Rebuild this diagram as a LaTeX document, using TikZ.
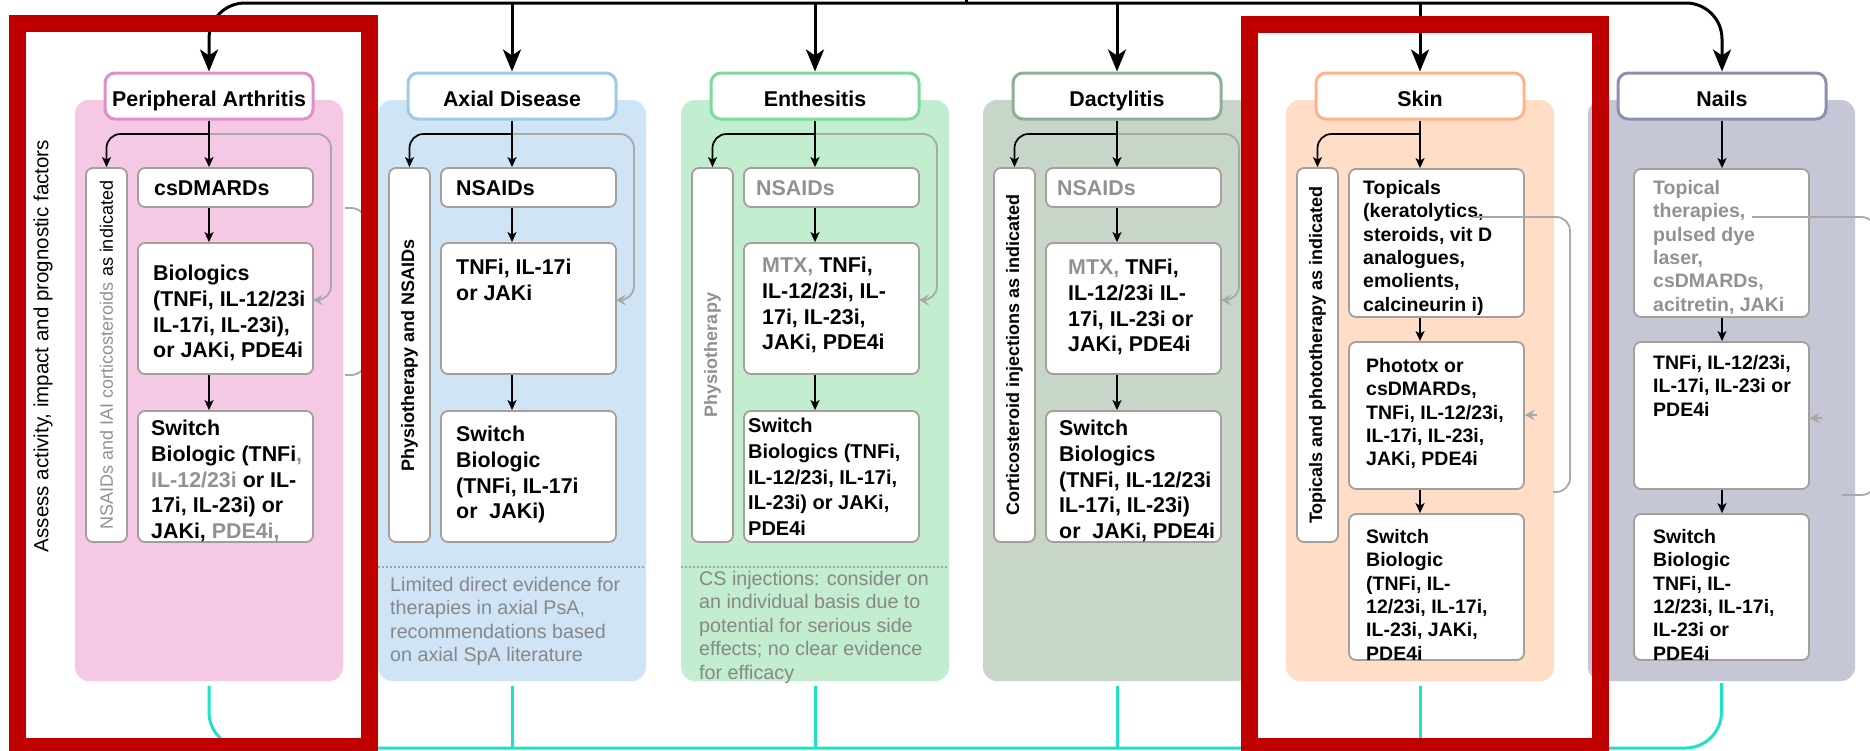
\documentclass[tikz,border=0pt]{standalone}
\usepackage{fontspec}
\setmainfont{Liberation Sans}
\usetikzlibrary{arrows.meta,fit}
\definecolor{redc}{RGB}{192,0,0}
\definecolor{tealc}{RGB}{30,226,200}
\definecolor{boxgray}{RGB}{166,158,153}
\definecolor{loopgray}{RGB}{168,168,168}
\definecolor{tgray}{RGB}{145,145,145}
\definecolor{notegray}{RGB}{135,135,135}
\definecolor{dotc}{RGB}{165,165,165}
\definecolor{hPAc}{RGB}{227,142,201}
\definecolor{hADc}{RGB}{158,202,234}
\definecolor{hENc}{RGB}{125,220,156}
\definecolor{hDAc}{RGB}{143,175,148}
\definecolor{hSKc}{RGB}{255,180,136}
\definecolor{hNAc}{RGB}{141,145,176}
\definecolor{pPAc}{RGB}{245,201,230}
\definecolor{pADc}{RGB}{207,229,246}
\definecolor{pENc}{RGB}{194,237,207}
\definecolor{pDAc}{RGB}{200,214,202}
\definecolor{pSKc}{RGB}{255,221,198}
\definecolor{pNAc}{RGB}{197,199,214}
\newcommand\myHdr{\fontsize{21.4}{25.5}\selectfont\bfseries}
\newcommand\myBig{\fontsize{21.4}{25.75}\selectfont\bfseries}
\newcommand\myMid{\fontsize{20}{25.75}\selectfont\bfseries}
\newcommand\mySmall{\fontsize{19.5}{23.4}\selectfont\bfseries}
\newcommand\mySide{\fontsize{18}{21}\selectfont\bfseries}
\newcommand\mySideR{\fontsize{18}{21}\selectfont}
\newcommand\myNote{\fontsize{19.7}{23.5}\selectfont}
\newcommand\myAssess{\fontsize{20.5}{24}\selectfont}
\newcommand\grtxt[1]{\textcolor{tgray}{#1}}
\tikzset{
  panel/.style={fill=#1, draw=none, rounded corners=14pt, inner sep=0pt},
  hdr/.style={draw=#1, line width=3pt, fill=white, rounded corners=10pt, inner sep=0pt,
    minimum width=208pt, minimum height=46pt, font=\myHdr, text height=21.3pt, text depth=0pt},
  bx/.style={draw=boxgray, line width=1.8pt, fill=white, rounded corners=7pt, inner sep=0pt},
  txt/.style={inner sep=0pt, align=left, font=\myBig, anchor=north west},
  stxt/.style={txt, font=\mySmall},
  sidetxt/.style={inner sep=0pt, rotate=90, font=\mySide},
  note/.style={inner sep=0pt, align=left, font=\myNote, text=notegray, anchor=north west},
  blk/.style={draw=black, line width=1.7pt, -{Stealth[length=10pt,width=9pt,inset=2.5pt]}},
  toparr/.style={draw=black, line width=3pt, -{Stealth[length=22pt,width=18pt,inset=6pt]}},
  gl/.style={draw=loopgray, line width=1.8pt},
  garr/.style={gl, -{Stealth[length=10pt,width=11pt,inset=4pt]}},
  tealline/.style={draw=tealc, line width=3pt},
  redframe/.style={draw=redc, line width=17pt},
  dotsep/.style={draw=dotc, line width=1.3pt, dash pattern=on 1.5pt off 2.5pt}
}
\begin{document}
\begin{tikzpicture}[x=1pt,y=-1pt]
\useasboundingbox (0,0) rectangle (1870,750);
\fill[white] (0,0) rectangle (1870,750);

% panels
\node[panel=pPAc, fit={(75,100) (343,681)}] (PPA) {};
\node[panel=pADc, fit={(378,100) (646,681)}] (PAD) {};
\node[panel=pENc, fit={(681,100) (949,681)}] (PEN) {};
\node[panel=pDAc, fit={(983,100) (1251,681)}] (PDA) {};
\node[panel=pSKc, fit={(1286,100) (1554,681)}] (PSK) {};
\node[panel=pNAc, fit={(1588,100) (1855,681)}] (PNA) {};

% headers
\node[hdr=hPAc] (hPA) at (209,96) {Peripheral Arthritis};
\node[hdr=hADc] (hAD) at (512,96) {Axial Disease};
\node[hdr=hENc] (hEN) at (815,96) {Enthesitis};
\node[hdr=hDAc] (hDA) at (1117,96) {Dactylitis};
\node[hdr=hSKc] (hSK) at (1420,96) {Skin};
\node[hdr=hNAc] (hNA) at (1722,96) {Nails};

% side boxes
\node[bx, fit={(86,168) (127,542)}] (paS) {};
\node[bx, fit={(389,168) (430,542)}] (adS) {};
\node[bx, fit={(692,168) (733,542)}] (enS) {};
\node[bx, fit={(994,168) (1035,542)}] (daS) {};
\node[bx, fit={(1297,168) (1338,542)}] (skS) {};

% main boxes
\node[bx, fit={(138,168) (313,207)}] (pa1) {};
\node[bx, fit={(138,243) (313,374)}] (pa2) {};
\node[bx, fit={(138,411) (313,542)}] (pa3) {};
\node[bx, fit={(441,168) (616,207)}] (ad1) {};
\node[bx, fit={(441,243) (616,374)}] (ad2) {};
\node[bx, fit={(441,411) (616,542)}] (ad3) {};
\node[bx, fit={(744,168) (919,207)}] (en1) {};
\node[bx, fit={(744,243) (919,374)}] (en2) {};
\node[bx, fit={(744,411) (919,542)}] (en3) {};
\node[bx, fit={(1046,168) (1221,207)}] (da1) {};
\node[bx, fit={(1046,243) (1221,374)}] (da2) {};
\node[bx, fit={(1046,411) (1221,542)}] (da3) {};
\node[bx, fit={(1349,169) (1524,317)}] (sk1) {};
\node[bx, fit={(1349,342) (1524,489)}] (sk2) {};
\node[bx, fit={(1349,514) (1524,660)}] (sk3) {};
\node[bx, fit={(1634,169) (1809,317)}] (na1) {};
\node[bx, fit={(1634,342) (1809,489)}] (na2) {};
\node[bx, fit={(1634,514) (1809,660)}] (na3) {};

% texts
\node[rotate=90, font=\myAssess, inner sep=0pt] (assess) at (43,346) {Assess activity, impact and prognostic factors};

\node[sidetxt, font=\mySideR] at (paS.center) {\grtxt{NSAIDs and IAI corticosteroids} as indicated};
\node[sidetxt] at (adS.center) {Physiotherapy and NSAIDs};
\node[sidetxt, text=tgray] at (enS.center) {Physiotherapy};
\node[sidetxt] at (daS.center) {Corticosteroid injections as indicated};
\node[sidetxt] at (skS.center) {Topicals and phototherapy as indicated};

\node[txt, anchor=west] at (154,188) {csDMARDs};
\node[txt] at (153,265) {Biologics\\(TNFi, IL-12/23i\\IL-17i, IL-23i),\\or JAKi, PDE4i};
\node[txt] at (151,420) {Switch\\Biologic (TNFi\grtxt{,}\\\grtxt{IL-12/23i} or IL-\\17i, IL-23i) or\\JAKi, \grtxt{PDE4i,}};

\node[txt, anchor=west] at (456,188) {NSAIDs};
\node[txt] at (456,259) {TNFi, IL-17i\\or JAKi};
\node[txt] at (456,426) {Switch\\Biologic\\(TNFi, IL-17i\\or~ JAKi)};

\node[txt, anchor=west, text=tgray] at (756,188) {NSAIDs};
\node[txt] at (762,257) {\grtxt{MTX,} TNFi,\\IL-12/23i, IL-\\17i, IL-23i,\\JAKi, PDE4i};
\node[txt, font=\myMid] at (748,418) {Switch\\Biologics (TNFi,\\IL-12/23i, IL-17i,\\IL-23i) or JAKi,\\PDE4i};

\node[txt, anchor=west, text=tgray] at (1057,188) {NSAIDs};
\node[txt] at (1068,259) {\grtxt{MTX,} TNFi,\\IL-12/23i IL-\\17i, IL-23i or\\JAKi, PDE4i};
\node[txt] at (1059,420) {Switch\\Biologics\\(TNFi, IL-12/23i\\IL-17i, IL-23i)\\or~ JAKi, PDE4i};

\node[stxt] at (1363,180) {Topicals\\(keratolytics,\\steroids, vit D\\analogues,\\emolients,\\calcineurin i)};
\node[stxt] at (1366,358) {Phototx or\\csDMARDs,\\TNFi, IL-12/23i,\\IL-17i, IL-23i,\\JAKi, PDE4i};
\node[stxt] at (1366,529) {Switch\\Biologic\\(TNFi, IL-\\12/23i, IL-17i,\\IL-23i, JAKi,\\PDE4i};

\node[stxt, text=tgray] at (1653,180) {Topical\\therapies,\\pulsed dye\\laser,\\csDMARDs,\\acitretin, JAKi};
\node[stxt] at (1653,355) {TNFi, IL-12/23i,\\IL-17i, IL-23i or\\PDE4i};
\node[stxt] at (1653,529) {Switch\\Biologic\\TNFi, IL-\\12/23i, IL-17i,\\IL-23i or\\PDE4i};

% notes
\draw[dotsep] (378,567) -- (646,567);
\draw[dotsep] (681,567) -- (949,567);
\node[note] at (390,577) {Limited direct evidence for\\therapies in axial PsA,\\recommendations based\\on axial SpA literature};
\node[note] at (699,571) {CS injections: consider on\\an individual basis due to\\potential for serious side\\effects; no clear evidence\\for efficacy};

% junction coordinates
\coordinate (jPA) at (209,134);
\coordinate (jAD) at (512,134);
\coordinate (jEN) at (815,134);
\coordinate (jDA) at (1117,134);
\coordinate (jSK) at (1420,134);

% gray feedback loops
\draw[garr, rounded corners=14pt] (jPA) -- (331,134) -- (331,300) -- (313,300);
\draw[garr, rounded corners=14pt] (jAD) -- (634,134) -- (634,300) -- (616,300);
\draw[garr, rounded corners=14pt] (jEN) -- (937,134) -- (937,300) -- (919,300);
\draw[garr, rounded corners=14pt] (jDA) -- (1239,134) -- (1239,300) -- (1221,300);
\draw[gl, rounded corners=15pt] (345,208) -- (366,208) -- (366,375) -- (345,375);
\coordinate (skL) at (1473,217);
\draw[gl, rounded corners=14pt] (skL) -- (1570,217) -- (1570,492) -- (1553,492);
\coordinate (skA) at (1537,415);
\draw[garr] (skA) -- (skA -| sk2.east);
\coordinate (naL) at (1752,217);
\draw[gl, rounded corners=16pt] (naL) -- (1877,217) -- (1877,495) -- (1842,495);
\coordinate (naA) at (1822,418);
\draw[garr] (naA) -- (naA -| na2.east);

% black connectors
\foreach \h/\s/\a/\b/\c/\j in {hPA/paS/pa1/pa2/pa3/jPA, hAD/adS/ad1/ad2/ad3/jAD, hEN/enS/en1/en2/en3/jEN, hDA/daS/da1/da2/da3/jDA, hSK/skS/sk1/sk2/sk3/jSK}{
  \draw[blk] (\h.south) -- (\h.south |- \a.north);
  \draw[blk, rounded corners=14pt] (\j) -| (\s.north);
  \draw[blk] (\h.south |- \a.south) -- (\h.south |- \b.north);
  \draw[blk] (\h.south |- \b.south) -- (\h.south |- \c.north);
}
\draw[blk] (hNA.south) -- (hNA.south |- na1.north);
\draw[blk] (hNA.south |- na1.south) -- (hNA.south |- na2.north);
\draw[blk] (hNA.south |- na2.south) -- (hNA.south |- na3.north);

% top distribution
\coordinate (src) at (966,3);
\draw[line width=3pt] (966,0) -- (src);
\draw[toparr, rounded corners=36pt] (src) -| (hPA.north);
\draw[toparr, rounded corners=36pt] (src) -| (hNA.north);
\foreach \h in {hAD,hEN,hDA,hSK}{
  \draw[toparr] (\h.north |- src) -- (\h.north);
}

% bottom teal
\coordinate (bot) at (966,748);
\draw[tealline, rounded corners=36pt] ([yshift=-5pt]PPA.south) -- (PPA.south |- bot) -- (PNA.south |- bot) -- ([yshift=-2pt]PNA.south);
\foreach \p in {PAD,PEN,PDA,PSK}{
  \draw[tealline] ([yshift=-5pt]\p.south) -- (\p.south |- bot);
}

% red frames
\draw[redframe] (17.5,23.5) rectangle (369,746);
\draw[redframe] (1249.5,24.5) rectangle (1600,746.5);
\end{tikzpicture}
\end{document}
